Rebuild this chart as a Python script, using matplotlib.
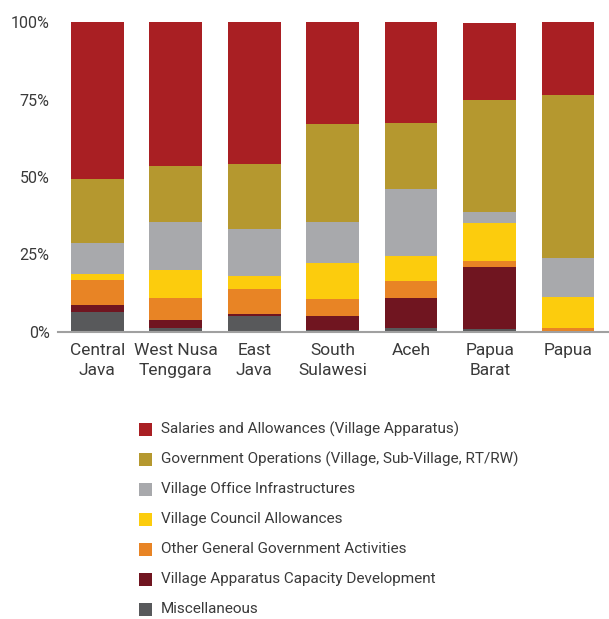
import matplotlib.pyplot as plt
from matplotlib.patches import Rectangle
from matplotlib.ticker import FuncFormatter

plt.rcParams['font.family'] = ['Roboto', 'DejaVu Sans']

provinces = ['Central\nJava', 'West Nusa\nTenggara', 'East\nJava', 'South\nSulawesi',
             'Aceh', 'Papua\nBarat', 'Papua']

# shares of village spending (%), stacked bottom to top
misc      = [6.5, 1.3, 5.2, 0.6, 1.3, 1.0, 0.0]
capacity  = [2.3, 2.6, 0.7, 4.6, 9.7, 20.0, 0.0]
other_gov = [8.0, 7.2, 8.1, 5.4, 5.5, 1.9, 1.3]
council   = [1.9, 9.0, 4.2, 11.7, 8.0, 12.3, 10.0]
office    = [10.0, 15.5, 15.0, 13.3, 21.6, 3.5, 12.6]
gov_ops   = [20.7, 18.1, 21.1, 31.5, 21.3, 36.1, 52.6]
salaries  = [50.6, 46.3, 45.7, 32.9, 32.6, 24.9, 23.5]

series = [
    ('Miscellaneous', misc, '#58595b'),
    ('Village Apparatus Capacity Development', capacity, '#701520'),
    ('Other General Government Activities', other_gov, '#e88425'),
    ('Village Council Allowances', council, '#fccc0d'),
    ('Village Office Infrastructures', office, '#a8a9ac'),
    ('Government Operations (Village, Sub-Village, RT/RW)', gov_ops, '#b5982f'),
    ('Salaries and Allowances (Village Apparatus)', salaries, '#a91f23'),
]

text_col = '#3a3a3a'
W, H = 609, 619

fig = plt.figure(figsize=(W / 100, H / 100), dpi=100)
ax = fig.add_axes([58 / W, 287 / H, 1 - 58 / W, 310 / H])

x = range(len(provinces))
bottom = [0.0] * len(provinces)
for name, vals, color in series:
    ax.bar(x, vals, width=0.67, bottom=bottom, color=color, linewidth=0)
    bottom = [b + v for b, v in zip(bottom, vals)]

ax.set_xlim(-0.5, 6.52)
ax.set_ylim(0, 100)
ax.set_yticks([0, 25, 50, 75, 100])
ax.yaxis.set_major_formatter(FuncFormatter(lambda v, _: f'{v:.0f}%'))
ax.set_xticks(list(x))
ax.set_xticklabels(provinces, fontsize=12.5, linespacing=1.4)
ax.tick_params(axis='both', length=0, colors=text_col)
ax.tick_params(axis='y', labelsize=11.5, pad=6)
ax.tick_params(axis='x', pad=8)
for side in ('top', 'right', 'left'):
    ax.spines[side].set_visible(False)
ax.spines['bottom'].set_color('#a0a0a0')
ax.spines['bottom'].set_linewidth(1.5)

# legend, salaries first
for i, (name, _, color) in enumerate(reversed(series)):
    yc = 429 + 30 * i
    fig.patches.append(Rectangle((139 / W, 1 - (yc + 6.5) / H), 13 / W, 13 / H,
                                 transform=fig.transFigure, facecolor=color,
                                 linewidth=0))
    fig.text(161 / W, 1 - yc / H, name, fontsize=11, color=text_col,
             va='center', ha='left')

fig.savefig('out.png', dpi=100)
